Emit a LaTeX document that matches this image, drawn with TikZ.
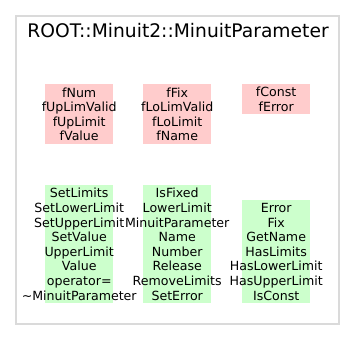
\documentclass[tikz,border=0pt]{standalone}
\usepackage{fontspec}
\setmainfont{DejaVu Sans}
\definecolor{attrpink}{HTML}{FFCCCC}
\definecolor{methgreen}{HTML}{CCFFCC}
\definecolor{framegray}{HTML}{DADADA}

\begin{document}
\begin{tikzpicture}[x=1pt,y=-1pt,
    box/.style={anchor=north west,minimum width=68pt,inner sep=0pt},
    txt/.style={align=center,inner sep=0pt,font=\fontsize{12.6}{14.6}\selectfont}]
    \useasboundingbox (0,0) rectangle (355,351);
    % 外框和类名
    \node[draw=framegray,line width=1.5pt,anchor=north west,minimum width=323pt,minimum height=308pt] (frame) at (15,15) {};
    \node[font=\fontsize{18.7}{22}\selectfont] (title) at (178,31) {ROOT::Minuit2::MinuitParameter};
    % 数据成员（粉色）
    \node[box,fill=attrpink,minimum height=60pt] (a1) at (45,84) {};
    \node[box,fill=attrpink,minimum height=60pt] (a2) at (143,84) {};
    \node[box,fill=attrpink,minimum height=30pt] (a3) at (242,84) {};
    % 成员函数（绿色）
    \node[box,fill=methgreen,minimum height=118pt] (m1) at (45,185) {};
    \node[box,fill=methgreen,minimum height=118pt] (m2) at (143,185) {};
    \node[box,fill=methgreen,minimum height=103pt] (m3) at (242,200) {};
    % 文字
    \node[txt] (ta1) at (a1) {fNum\\fUpLimValid\\fUpLimit\\fValue};
    \node[txt] (ta2) at (a2) {fFix\\fLoLimValid\\fLoLimit\\fName};
    \node[txt] (ta3) at (a3) {fConst\\fError};
    \node[txt] (tm1) at (m1) {SetLimits\\SetLowerLimit\\SetUpperLimit\\SetValue\\UpperLimit\\Value\\operator=\\\textasciitilde MinuitParameter};
    \node[txt] (tm2) at (m2) {IsFixed\\LowerLimit\\MinuitParameter\\Name\\Number\\Release\\RemoveLimits\\SetError};
    \node[txt] (tm3) at (m3) {Error\\Fix\\GetName\\HasLimits\\HasLowerLimit\\HasUpperLimit\\IsConst};
\end{tikzpicture}
\end{document}
